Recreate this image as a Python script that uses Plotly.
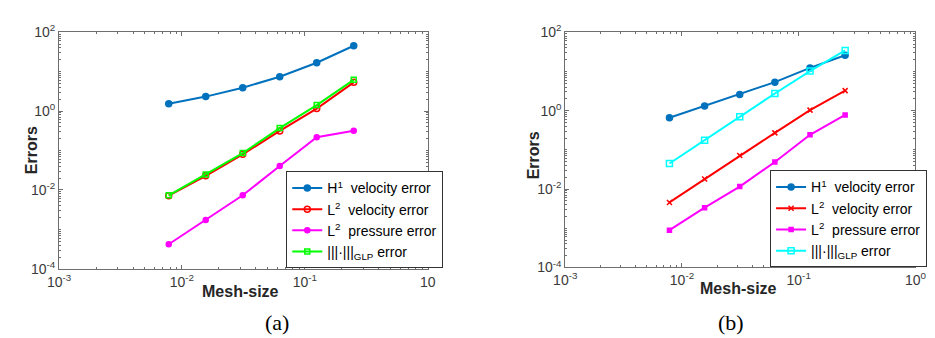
import plotly.graph_objects as go

# ---------------- data ----------------
mesh_size = [1/128, 1/64, 1/32, 1/16, 1/8, 1/4]

# panel (a)
a_h1_vel = [1.53, 2.33, 3.91, 7.45, 16.8, 45.4]
a_l2_vel = [0.00718, 0.0229, 0.0802, 0.314, 1.16, 5.35]
a_l2_pre = [0.000421, 0.00174, 0.00733, 0.0406, 0.217, 0.319]
a_glp = [0.00733, 0.0247, 0.0863, 0.371, 1.42, 6.2]

# panel (b)
b_h1_vel = [0.659, 1.31, 2.59, 5.33, 12.3, 25.9]
b_l2_vel = [0.00456, 0.018, 0.0713, 0.271, 1.03, 3.24]
b_l2_pre = [0.000895, 0.00334, 0.01156, 0.0491, 0.242, 0.778]
b_glp = [0.0447, 0.176, 0.697, 2.74, 10.2, 34.2]

names = ["H<sup>1</sup>  velocity error", "L<sup>2</sup>  velocity error",
         "L<sup>2</sup>  pressure error", "|||·|||<sub>GLP</sub> error"]

xtick_vals = [1e-3, 1e-2, 1e-1, 1]
xtick_text_a = ["10<sup>-3</sup>", "10<sup>-2</sup>", "10<sup>-1</sup>", "10"]
xtick_text_b = ["10<sup>-3</sup>", "10<sup>-2</sup>", "10<sup>-1</sup>", "10<sup>0</sup>"]
ytick_vals = [1e-4, 1e-2, 1, 1e2]
ytick_text = ["10<sup>-4</sup>", "10<sup>-2</sup>", "10<sup>0</sup>", "10<sup>2</sup>"]

BLUE = "#0072BD"
RED = "#FF0000"
MAG = "#FF00FF"
GREEN = "#00FF00"
CYAN = "#00FFFF"

fig = go.Figure()

def add(x, y, name, color, symbol, size, xa, ya, legend):
    fig.add_trace(go.Scatter(
        x=x, y=y, name=name, mode="lines+markers",
        line=dict(color=color, width=2),
        marker=dict(symbol=symbol, size=size, color=color,
                    line=dict(color=color, width=1.5)),
        xaxis=xa, yaxis=ya, legend=legend))

add(mesh_size, a_h1_vel, names[0], BLUE, "circle", 6, "x", "y", "legend")
add(mesh_size, a_l2_vel, names[1], RED, "circle-open", 6, "x", "y", "legend")
add(mesh_size, a_l2_pre, names[2], MAG, "circle", 5, "x", "y", "legend")
add(mesh_size, a_glp, names[3], GREEN, "square-open", 5, "x", "y", "legend")

add(mesh_size, b_h1_vel, names[0], BLUE, "circle", 6, "x2", "y2", "legend2")
add(mesh_size, b_l2_vel, names[1], RED, "x-thin-open", 5, "x2", "y2", "legend2")
add(mesh_size, b_l2_pre, names[2], MAG, "square", 4, "x2", "y2", "legend2")
add(mesh_size, b_glp, names[3], CYAN, "square-open", 6, "x2", "y2", "legend2")

W, H = 935, 338
AXC = "#6e6e6e"
TICKFONT = dict(family="Liberation Sans, Arial", size=14, color="#3a3a3a")

def xaxis(domain, anchor, ticktext):
    return dict(type="log", domain=domain, anchor=anchor, range=[-3, 0],
                tickvals=xtick_vals, ticktext=ticktext, tickfont=TICKFONT,
                ticks="inside", ticklen=4, tickcolor=AXC,
                showline=True, linecolor=AXC, linewidth=1, mirror="ticks",
                showgrid=False, zeroline=False,
                minor=dict(ticks="inside", ticklen=2, tickcolor=AXC, dtick="D1", showgrid=False))

def yaxis(domain, anchor):
    return dict(type="log", domain=domain, anchor=anchor, range=[-4, 2],
                tickvals=ytick_vals, ticktext=ytick_text, tickfont=TICKFONT,
                ticks="inside", ticklen=4, tickcolor=AXC,
                showline=True, linecolor=AXC, linewidth=1, mirror="ticks",
                showgrid=False, zeroline=False,
                minor=dict(ticks="inside", ticklen=2, tickcolor=AXC, dtick="D1", showgrid=False))

ax_l, ax_r = 40, 418
bx_l, bx_r = 559, 918
top = 15
a_bot, b_bot = 265, 263.5

legfont = dict(family="Liberation Sans, Arial", size=14, color="#000000")

fig.update_layout(
    width=W, height=H,
    margin=dict(l=0, r=0, t=0, b=0),
    paper_bgcolor="white", plot_bgcolor="white",
    xaxis=xaxis([ax_l / W, ax_r / W], "y", xtick_text_a),
    yaxis=yaxis([1 - a_bot / H, 1 - top / H], "x"),
    xaxis2=xaxis([bx_l / W, bx_r / W], "y2", xtick_text_b),
    yaxis2=yaxis([1 - b_bot / H, 1 - top / H], "x2"),
    legend=dict(x=273 / W, y=1 - 162 / H, xanchor="left", yanchor="top",
                bgcolor="white", bordercolor="#333333", borderwidth=1,
                font=legfont, tracegroupgap=0, itemwidth=30,
                traceorder="normal"),
    legend2=dict(x=769 / W, y=1 - 161 / H, xanchor="left", yanchor="top",
                 bgcolor="white", bordercolor="#333333", borderwidth=1,
                 font=legfont, tracegroupgap=0, itemwidth=30,
                 traceorder="normal"),
    showlegend=True,
)

titlefont = dict(family="Liberation Sans, Arial", size=16, color="#262626")
serif = dict(family="Liberation Serif, Times New Roman", size=22, color="#000000")

ann = [
    dict(text="<b>Mesh-size</b>", x=226 / W, y=1 - 289 / H, font=titlefont),
    dict(text="<b>Errors</b>", x=12 / W, y=1 - 140 / H, font=titlefont, textangle=-90),
    dict(text="<b>Mesh-size</b>", x=737 / W, y=1 - 286 / H, font=titlefont),
    dict(text="<b>Errors</b>", x=526 / W, y=1 - 145 / H, font=titlefont, textangle=-90),
    dict(text="(a)", x=263 / W, y=1 - 322 / H, font=serif),
    dict(text="(b)", x=729 / W, y=1 - 322 / H, font=serif),
]
for a in ann:
    a.update(xref="paper", yref="paper", showarrow=False, xanchor="center", yanchor="middle")
fig.update_layout(annotations=ann)

fig.write_html("out.html")
